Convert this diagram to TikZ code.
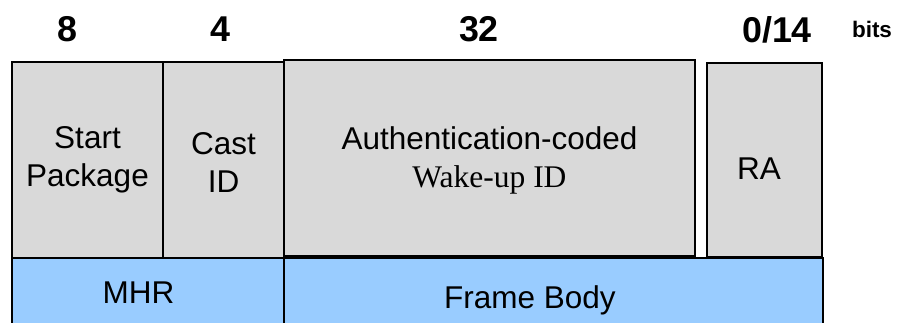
\documentclass[tikz,border=0pt]{standalone}
\usepackage{fontspec}
\setmainfont{Liberation Sans}
\newfontfamily\wakefont{Liberation Serif}
\definecolor{fieldgray}{HTML}{D9D9D9}
\definecolor{layerblue}{HTML}{99CCFF}

\begin{document}
\begin{tikzpicture}[x=0.025cm,y=-0.025cm,
	field/.style={draw=black, line width=0.9pt, fill=fieldgray},
	layer/.style={draw=black, line width=1pt, fill=layerblue},
	fieldtext/.style={font=\fontsize{22.4}{27}\selectfont, align=center, inner sep=0pt},
	bitcount/.style={font=\fontsize{25.5}{30}\selectfont\bfseries, inner sep=0pt}]
	\clip (0,0) rectangle (904,323);
	% Draw the header and body layers
	\draw[layer] (12,258) rectangle (284,335);
	\draw[layer] (284,258) rectangle (823,335);
	% Draw the fields
	\foreach \xa/\ya/\xb/\yb in {12/62/163/258, 163/62/284/258, 284/60/695/256, 707/63/822/257} {
		\draw[field] (\xa,\ya) rectangle (\xb,\yb);
	}
	% Add the field names
	\node[fieldtext] (start) at (87.5,160) {Start\\Package};
	\node[fieldtext] (cast) at (223.5,162.5) {Cast\\ID};
	\node[fieldtext] (auth) at (489.5,160.5) {Authentication-coded\\{\wakefont Wake-up ID}};
	\node[fieldtext] (ra) at (759,168.5) {RA};
	\node[fieldtext] (mhr) at (138.5,292.5) {MHR};
	\node[fieldtext] (body) at (530,300.5) {Frame Body};
	% Add the bit counts
	\foreach \x/\n/\t in {67/eight/8, 220.5/four/4, 479/thirtytwo/32, 777/ra/0\slash 14} {
		\node[bitcount] (bits-\n) at (\x,29.5) {\t};
	}
	\node[bitcount, font=\fontsize{16}{19}\selectfont\bfseries] (bits) at (872,29.5) {bits};
\end{tikzpicture}
\end{document}
